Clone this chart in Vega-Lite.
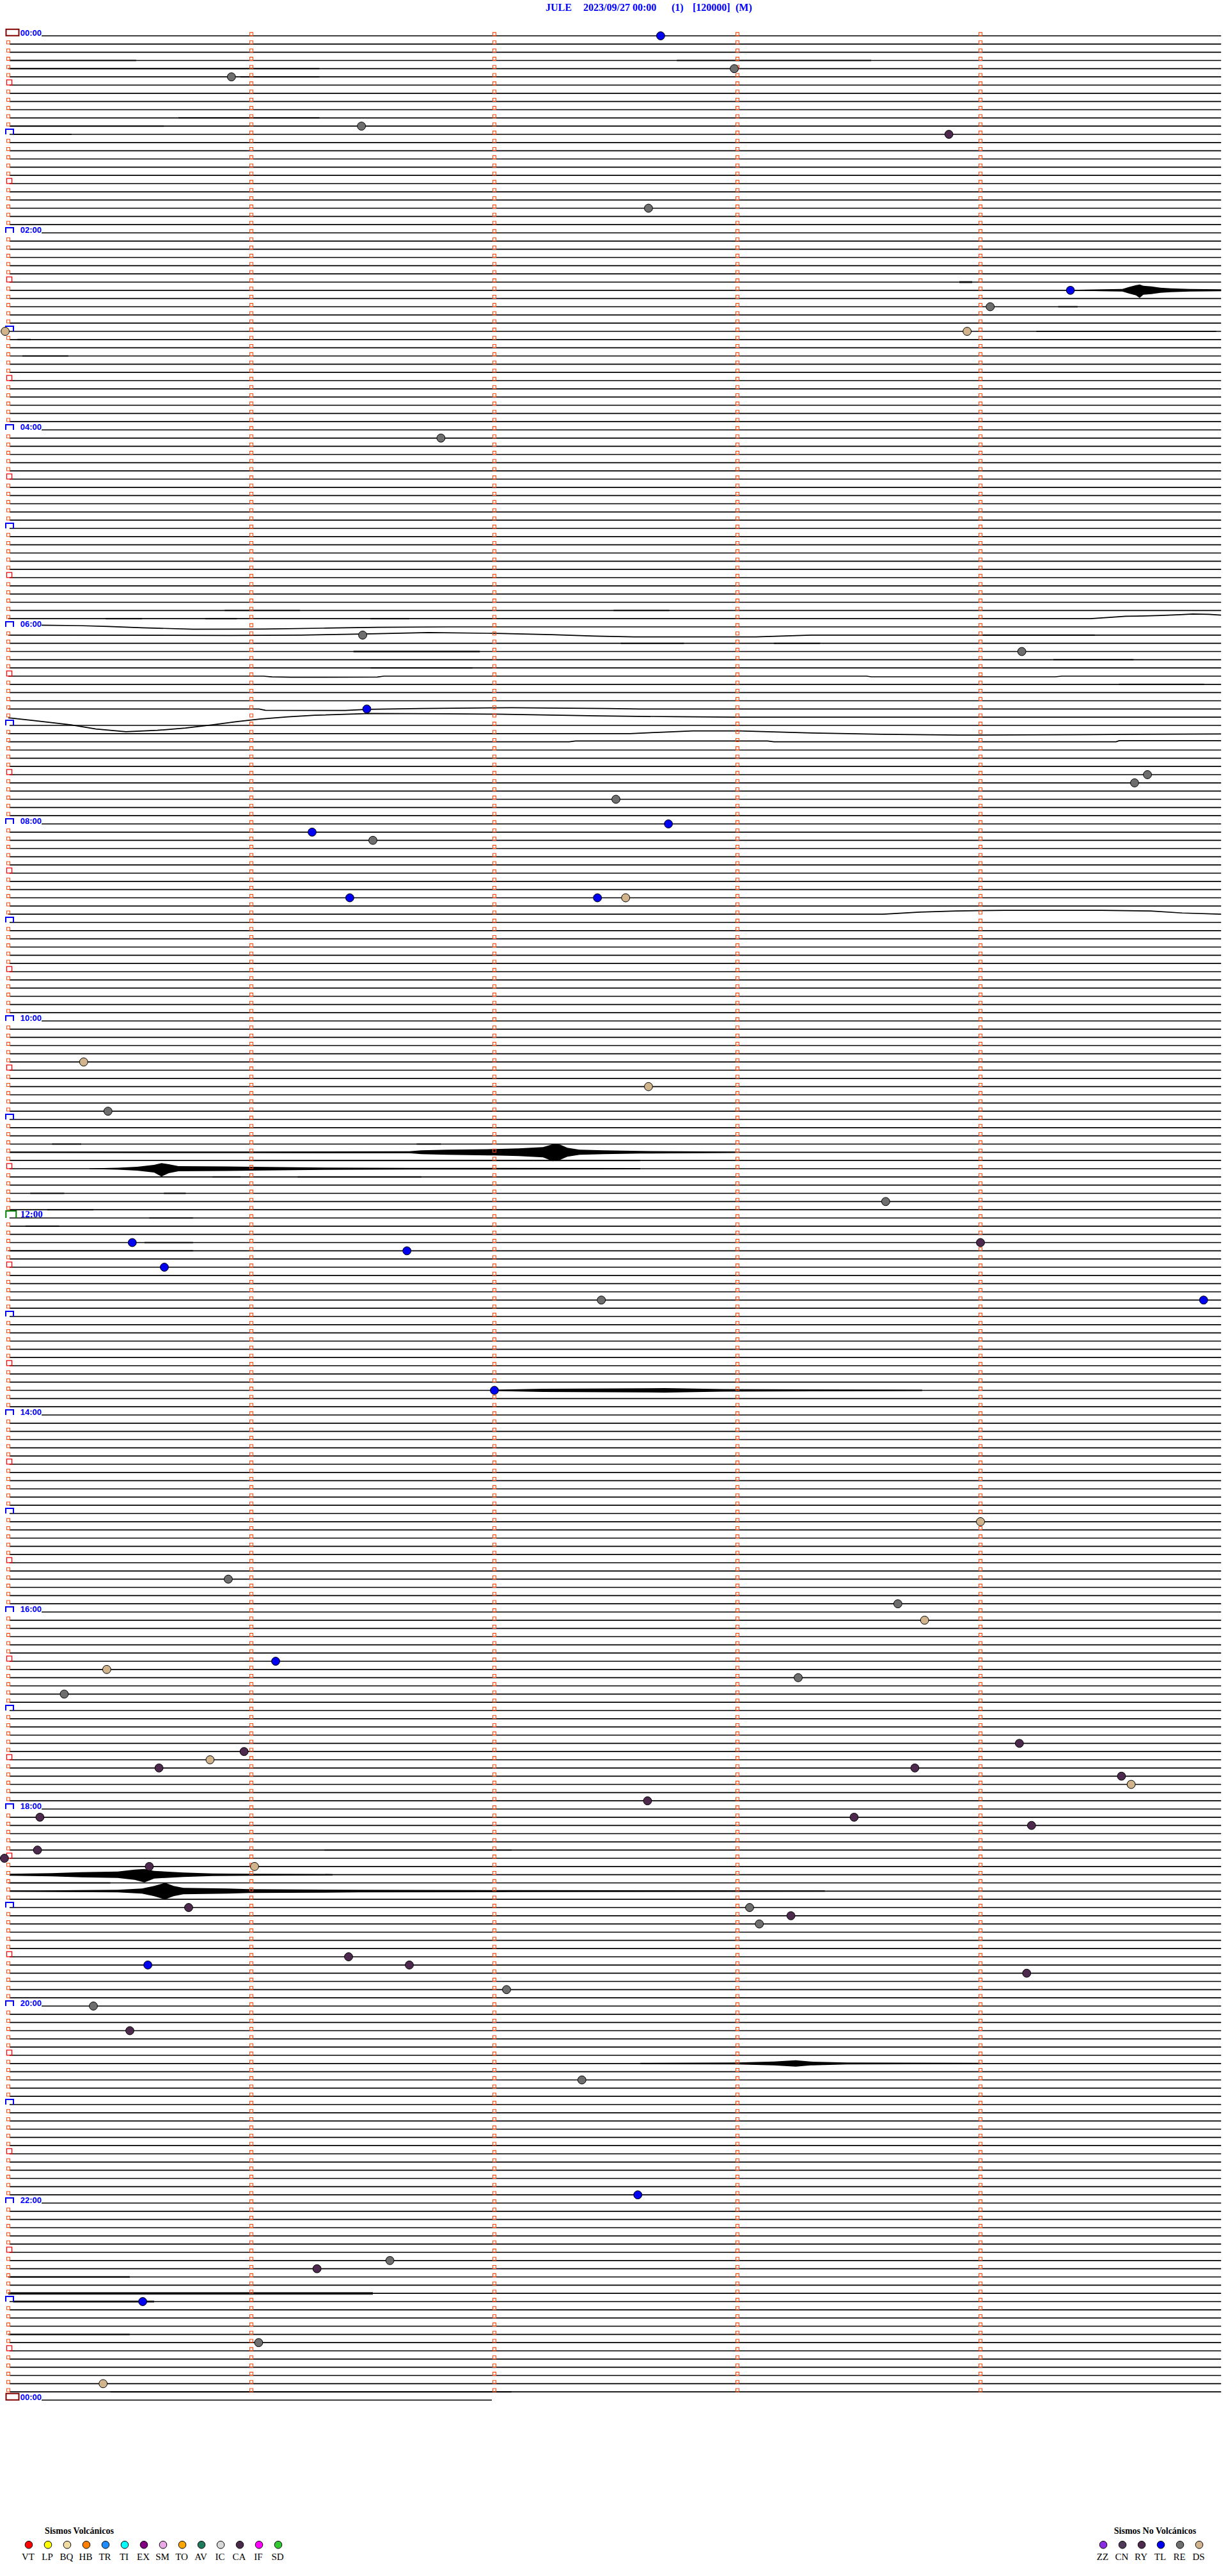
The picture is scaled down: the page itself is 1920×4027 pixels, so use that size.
{
  "$schema": "https://vega.github.io/schema/vega-lite/v6.json",
  "autosize": {"type": "none"},
  "width": 1900,
  "height": 3696,
  "padding": {"left": 13, "top": 56, "right": 7, "bottom": 275},
  "background": "white",
  "config": {"view": {"stroke": null}, "axis": {"disable": true}, "legend": {"disable": true}},
  "datasets": {
    "rows": [{"i":0},{"i":1},{"i":2},{"i":3},{"i":4},{"i":5},{"i":6},{"i":7},{"i":8},{"i":9},{"i":10},{"i":11},{"i":12},{"i":13},{"i":14},{"i":15},{"i":16},{"i":17},{"i":18},{"i":19},{"i":20},{"i":21},{"i":22},{"i":23},{"i":24},{"i":25},{"i":26},{"i":27},{"i":28},{"i":29},{"i":30},{"i":31},{"i":32},{"i":33},{"i":34},{"i":35},{"i":36},{"i":37},{"i":38},{"i":39},{"i":40},{"i":41},{"i":42},{"i":43},{"i":44},{"i":45},{"i":46},{"i":47},{"i":48},{"i":49},{"i":50},{"i":51},{"i":52},{"i":53},{"i":54},{"i":55},{"i":56},{"i":57},{"i":58},{"i":59},{"i":60},{"i":61},{"i":62},{"i":63},{"i":64},{"i":65},{"i":66},{"i":67},{"i":68},{"i":69},{"i":70},{"i":71},{"i":72},{"i":73},{"i":74},{"i":75},{"i":76},{"i":77},{"i":78},{"i":79},{"i":80},{"i":81},{"i":82},{"i":83},{"i":84},{"i":85},{"i":86},{"i":87},{"i":88},{"i":89},{"i":90},{"i":91},{"i":92},{"i":93},{"i":94},{"i":95},{"i":96},{"i":97},{"i":98},{"i":99},{"i":100},{"i":101},{"i":102},{"i":103},{"i":104},{"i":105},{"i":106},{"i":107},{"i":108},{"i":109},{"i":110},{"i":111},{"i":112},{"i":113},{"i":114},{"i":115},{"i":116},{"i":117},{"i":118},{"i":119},{"i":120},{"i":121},{"i":122},{"i":123},{"i":124},{"i":125},{"i":126},{"i":127},{"i":128},{"i":129},{"i":130},{"i":131},{"i":132},{"i":133},{"i":134},{"i":135},{"i":136},{"i":137},{"i":138},{"i":139},{"i":140},{"i":141},{"i":142},{"i":143},{"i":144},{"i":145},{"i":146},{"i":147},{"i":148},{"i":149},{"i":150},{"i":151},{"i":152},{"i":153},{"i":154},{"i":155},{"i":156},{"i":157},{"i":158},{"i":159},{"i":160},{"i":161},{"i":162},{"i":163},{"i":164},{"i":165},{"i":166},{"i":167},{"i":168},{"i":169},{"i":170},{"i":171},{"i":172},{"i":173},{"i":174},{"i":175},{"i":176},{"i":177},{"i":178},{"i":179},{"i":180},{"i":181},{"i":182},{"i":183},{"i":184},{"i":185},{"i":186},{"i":187},{"i":188},{"i":189},{"i":190},{"i":191},{"i":192},{"i":193},{"i":194},{"i":195},{"i":196},{"i":197},{"i":198},{"i":199},{"i":200},{"i":201},{"i":202},{"i":203},{"i":204},{"i":205},{"i":206},{"i":207},{"i":208},{"i":209},{"i":210},{"i":211},{"i":212},{"i":213},{"i":214},{"i":215},{"i":216},{"i":217},{"i":218},{"i":219},{"i":220},{"i":221},{"i":222},{"i":223},{"i":224},{"i":225},{"i":226},{"i":227},{"i":228},{"i":229},{"i":230},{"i":231},{"i":232},{"i":233},{"i":234},{"i":235},{"i":236},{"i":237},{"i":238},{"i":239},{"i":240},{"i":241},{"i":242},{"i":243},{"i":244},{"i":245},{"i":246},{"i":247},{"i":248},{"i":249},{"i":250},{"i":251},{"i":252},{"i":253},{"i":254},{"i":255},{"i":256},{"i":257},{"i":258},{"i":259},{"i":260},{"i":261},{"i":262},{"i":263},{"i":264},{"i":265},{"i":266},{"i":267},{"i":268},{"i":269},{"i":270},{"i":271},{"i":272},{"i":273},{"i":274},{"i":275},{"i":276},{"i":277},{"i":278},{"i":279},{"i":280},{"i":281},{"i":282},{"i":283},{"i":284},{"i":285},{"i":286},{"i":287},{"i":288}],
    "waves": [
      {"w":71,"t":0,"y":71},{"w":71,"t":4.4526,"y":71},{"w":71,"t":4.5316,"y":70.844},{"w":71,"t":4.5974,"y":70.712},{"w":71,"t":4.6763,"y":70.665},{"w":71,"t":4.7421,"y":70.611},{"w":71,"t":4.8237,"y":70.509},{"w":71,"t":4.8737,"y":70.431},{"w":71,"t":4.9395,"y":70.478},{"w":71,"t":4.99,"y":70.572},
      {"w":72,"t":0.1368,"y":71.79},{"w":72,"t":0.2895,"y":71.844},{"w":72,"t":0.4132,"y":71.945},{"w":72,"t":0.55,"y":72.101},{"w":72,"t":0.7605,"y":72.288},{"w":72,"t":1.05,"y":72.257},{"w":72,"t":1.2947,"y":72.156},{"w":72,"t":1.5211,"y":72.055},{"w":72,"t":1.8132,"y":72},{"w":72,"t":4.99,"y":72},
      {"w":73,"t":0,"y":73},{"w":73,"t":0.9132,"y":73.039},{"w":73,"t":1.2026,"y":73},{"w":73,"t":1.3868,"y":72.899},{"w":73,"t":1.5211,"y":72.821},{"w":73,"t":1.7289,"y":72.688},{"w":73,"t":2.0053,"y":72.79},{"w":73,"t":2.2342,"y":72.945},{"w":73,"t":2.4132,"y":73.117},{"w":73,"t":2.5737,"y":73.21},{"w":73,"t":3.0763,"y":73.21},{"w":73,"t":3.3026,"y":73},{"w":73,"t":4.99,"y":73},
      {"w":78,"t":0,"y":78},{"w":78,"t":1.05,"y":78},{"w":78,"t":1.0842,"y":78.093},{"w":78,"t":1.1632,"y":78.132},{"w":78,"t":1.5184,"y":78.101},{"w":78,"t":1.5447,"y":78},{"w":78,"t":3.5316,"y":78},{"w":78,"t":3.55,"y":78.078},{"w":78,"t":4.3079,"y":78.078},{"w":78,"t":4.3342,"y":78},{"w":78,"t":4.99,"y":78},
      {"w":82,"t":0,"y":82},{"w":82,"t":1.0316,"y":82},{"w":82,"t":1.0579,"y":82.156},{"w":82,"t":1.3868,"y":82.179},{"w":82,"t":1.4789,"y":82.039},{"w":82,"t":1.6974,"y":81.945},{"w":82,"t":2.0711,"y":81.844},{"w":82,"t":2.4605,"y":81.945},{"w":82,"t":2.5974,"y":82},{"w":82,"t":4.99,"y":82},
      {"w":83,"t":0,"y":83.078},{"w":83,"t":0.0974,"y":83.39},{"w":83,"t":0.2579,"y":83.935},{"w":83,"t":0.3605,"y":84.441},{"w":83,"t":0.4842,"y":84.768},{"w":83,"t":0.6132,"y":84.597},{"w":83,"t":0.7289,"y":84.324},{"w":83,"t":0.8395,"y":83.935},{"w":83,"t":0.9395,"y":83.545},{"w":83,"t":1.0342,"y":83.234},{"w":83,"t":1.15,"y":82.961},{"w":83,"t":1.2605,"y":82.766},{"w":83,"t":1.4868,"y":82.556},{"w":83,"t":1.8079,"y":82.587},{"w":83,"t":2.0053,"y":82.634},{"w":83,"t":2.4263,"y":82.844},{"w":83,"t":2.75,"y":82.945},{"w":83,"t":2.9921,"y":83},{"w":83,"t":4.99,"y":83},
      {"w":85,"t":0,"y":85},{"w":85,"t":2.5579,"y":85},{"w":85,"t":2.6763,"y":84.844},{"w":85,"t":2.8158,"y":84.665},{"w":85,"t":3.0105,"y":84.665},{"w":85,"t":3.1237,"y":84.766},{"w":85,"t":3.3079,"y":84.922},{"w":85,"t":3.5974,"y":85.078},{"w":85,"t":3.9132,"y":85.179},{"w":85,"t":4.4395,"y":85.117},{"w":85,"t":4.99,"y":85.039},
      {"w":86,"t":0,"y":86},{"w":86,"t":2.3079,"y":86},{"w":86,"t":2.3342,"y":85.899},{"w":86,"t":3.1237,"y":85.899},{"w":86,"t":3.15,"y":86},{"w":86,"t":4.5579,"y":86},{"w":86,"t":4.5711,"y":85.868},{"w":86,"t":4.99,"y":85.868},
      {"w":107,"t":0,"y":107},{"w":107,"t":3.6,"y":107},{"w":107,"t":3.75,"y":106.75},{"w":107,"t":3.9,"y":106.6},{"w":107,"t":4.1,"y":106.533},{"w":107,"t":4.5,"y":106.533},{"w":107,"t":4.7,"y":106.6},{"w":107,"t":4.83,"y":106.85},{"w":107,"t":4.99,"y":107}
    ],
    "noise": [
      {"i":3,"t0":0.005,"t1":0.526,"lo":2.922,"hi":3.078},{"i":3,"t0":2.75,"t1":3.55,"lo":2.922,"hi":3.078},
      {"i":4,"t0":0.0,"t1":1.28,"lo":3.922,"hi":4.078},{"i":5,"t0":0.955,"t1":1.28,"lo":4.922,"hi":5.078},
      {"i":10,"t0":0.7,"t1":1.28,"lo":9.922,"hi":10.078},{"i":11,"t0":0.005,"t1":0.64,"lo":10.922,"hi":11.078},{"i":12,"t0":0.02,"t1":0.26,"lo":11.922,"hi":12.078},
      {"i":30,"t0":3.913,"t1":3.966,"lo":29.883,"hi":30.117},{"i":33,"t0":4.32,"t1":4.4,"lo":32.922,"hi":33.078},{"i":36,"t0":4.23,"t1":4.97,"lo":35.922,"hi":36.078},
      {"i":37,"t0":0.037,"t1":0.092,"lo":36.922,"hi":37.078},{"i":39,"t0":0.058,"t1":0.247,"lo":38.922,"hi":39.078},
      {"i":70,"t0":0.89,"t1":1.2,"lo":69.922,"hi":70.078},{"i":70,"t0":2.49,"t1":2.72,"lo":69.922,"hi":70.078},
      {"i":71,"t0":0.4,"t1":0.55,"lo":70.922,"hi":71.078},{"i":71,"t0":0.81,"t1":0.94,"lo":70.922,"hi":71.078},{"i":71,"t0":1.49,"t1":1.65,"lo":70.922,"hi":71.078},
      {"i":73,"t0":4.01,"t1":4.47,"lo":72.907,"hi":73.093},{"i":74,"t0":2.52,"t1":2.78,"lo":73.922,"hi":74.078},{"i":74,"t0":3.15,"t1":3.34,"lo":73.922,"hi":74.078},
      {"i":75,"t0":1.42,"t1":1.94,"lo":74.907,"hi":75.093},{"i":76,"t0":4.3,"t1":4.63,"lo":75.922,"hi":76.078},{"i":77,"t0":1.49,"t1":1.91,"lo":76.922,"hi":77.078},
      {"i":79,"t0":4.57,"t1":4.92,"lo":78.922,"hi":79.078},
      {"i":135,"t0":0.18,"t1":0.3,"lo":134.922,"hi":135.078},{"i":135,"t0":1.68,"t1":1.78,"lo":134.922,"hi":135.078},
      {"i":137,"t0":0.99,"t1":2.6,"lo":136.922,"hi":137.078},
      {"i":139,"t0":0.84,"t1":0.955,"lo":138.922,"hi":139.078},{"i":139,"t0":1.19,"t1":1.7,"lo":138.907,"hi":139.093},
      {"i":141,"t0":0.09,"t1":0.23,"lo":140.922,"hi":141.078},{"i":141,"t0":0.64,"t1":0.73,"lo":140.922,"hi":141.078},
      {"i":143,"t0":0.16,"t1":0.35,"lo":142.922,"hi":143.078},{"i":144,"t0":0.58,"t1":0.76,"lo":143.922,"hi":144.078},{"i":145,"t0":0.07,"t1":0.21,"lo":144.922,"hi":145.078},
      {"i":147,"t0":0.56,"t1":0.76,"lo":146.922,"hi":147.078},{"i":148,"t0":0.0,"t1":0.76,"lo":147.922,"hi":148.078},
      {"i":221,"t0":1.3,"t1":2.07,"lo":220.922,"hi":221.078},{"i":225,"t0":0.0,"t1":0.42,"lo":224.922,"hi":225.078},
      {"i":273,"t0":0.0,"t1":0.5,"lo":272.907,"hi":273.093},{"i":275,"t0":0.0,"t1":1.5,"lo":274.844,"hi":275.156},{"i":276,"t0":0.02,"t1":0.6,"lo":275.883,"hi":276.117},
      {"i":280,"t0":0.0,"t1":0.5,"lo":279.907,"hi":280.093},{"i":287,"t0":0.42,"t1":2.07,"lo":286.907,"hi":287.093}
    ],
    "bursts": [
      {"e":31,"t":4.371,"lo":30.961,"hi":31.039},{"e":31,"t":4.5,"lo":30.883,"hi":31.117},{"e":31,"t":4.584,"lo":30.844,"hi":31.156},{"e":31,"t":4.61,"lo":30.61,"hi":31.39},{"e":31,"t":4.64,"lo":30.377,"hi":31.623},{"e":31,"t":4.655,"lo":30.3,"hi":31.93},{"e":31,"t":4.67,"lo":30.455,"hi":31.545},{"e":31,"t":4.703,"lo":30.533,"hi":31.467},{"e":31,"t":4.74,"lo":30.688,"hi":31.312},{"e":31,"t":4.782,"lo":30.766,"hi":31.234},{"e":31,"t":4.86,"lo":30.844,"hi":31.156},{"e":31,"t":4.99,"lo":30.883,"hi":31.117},
      {"e":136,"t":0.005,"lo":135.922,"hi":136.078},{"e":136,"t":0.99,"lo":135.907,"hi":136.093},{"e":136,"t":1.65,"lo":135.883,"hi":136.117},{"e":136,"t":1.7,"lo":135.766,"hi":136.234},{"e":136,"t":1.808,"lo":135.688,"hi":136.312},{"e":136,"t":2.0,"lo":135.61,"hi":136.39},{"e":136,"t":2.1,"lo":135.533,"hi":136.467},{"e":136,"t":2.2,"lo":135.377,"hi":136.623},{"e":136,"t":2.24,"lo":135.01,"hi":137.09},{"e":136,"t":2.27,"lo":135.065,"hi":136.935},{"e":136,"t":2.3,"lo":135.455,"hi":136.545},{"e":136,"t":2.35,"lo":135.688,"hi":136.312},{"e":136,"t":2.45,"lo":135.766,"hi":136.234},{"e":136,"t":2.6,"lo":135.844,"hi":136.156},{"e":136,"t":2.99,"lo":135.922,"hi":136.078},
      {"e":138,"t":0.334,"lo":137.961,"hi":138.039},{"e":138,"t":0.45,"lo":137.883,"hi":138.117},{"e":138,"t":0.53,"lo":137.766,"hi":138.234},{"e":138,"t":0.6,"lo":137.533,"hi":138.467},{"e":138,"t":0.63,"lo":137.32,"hi":138.96},{"e":138,"t":0.66,"lo":137.455,"hi":138.545},{"e":138,"t":0.7,"lo":137.688,"hi":138.312},{"e":138,"t":0.9,"lo":137.727,"hi":138.273},{"e":138,"t":1.0,"lo":137.766,"hi":138.234},{"e":138,"t":1.3,"lo":137.86,"hi":138.14},{"e":138,"t":1.65,"lo":137.907,"hi":138.093},{"e":138,"t":2.6,"lo":137.922,"hi":138.078},
      {"e":165,"t":2.0,"lo":164.922,"hi":165.078},{"e":165,"t":2.2,"lo":164.805,"hi":165.195},{"e":165,"t":2.5,"lo":164.766,"hi":165.234},{"e":165,"t":2.7,"lo":164.727,"hi":165.273},{"e":165,"t":2.94,"lo":164.844,"hi":165.156},{"e":165,"t":3.76,"lo":164.922,"hi":165.078},
      {"e":224,"t":0.005,"lo":223.883,"hi":224.117},{"e":224,"t":0.18,"lo":223.805,"hi":224.195},{"e":224,"t":0.3,"lo":223.688,"hi":224.312},{"e":224,"t":0.45,"lo":223.61,"hi":224.39},{"e":224,"t":0.52,"lo":223.377,"hi":224.623},{"e":224,"t":0.56,"lo":223.3,"hi":224.935},{"e":224,"t":0.6,"lo":223.533,"hi":224.467},{"e":224,"t":0.72,"lo":223.727,"hi":224.273},{"e":224,"t":0.84,"lo":223.844,"hi":224.156},{"e":224,"t":1.0,"lo":223.883,"hi":224.117},{"e":224,"t":1.334,"lo":223.922,"hi":224.078},
      {"e":226,"t":0.005,"lo":225.922,"hi":226.078},{"e":226,"t":0.13,"lo":225.907,"hi":226.093},{"e":226,"t":0.45,"lo":225.844,"hi":226.156},{"e":226,"t":0.55,"lo":225.688,"hi":226.312},{"e":226,"t":0.6,"lo":225.377,"hi":226.623},{"e":226,"t":0.645,"lo":224.987,"hi":227.013},{"e":226,"t":0.68,"lo":225.377,"hi":226.623},{"e":226,"t":0.72,"lo":225.61,"hi":226.39},{"e":226,"t":0.9,"lo":225.688,"hi":226.312},{"e":226,"t":0.99,"lo":225.766,"hi":226.234},{"e":226,"t":1.44,"lo":225.844,"hi":226.156},{"e":226,"t":2.07,"lo":225.883,"hi":226.117},{"e":226,"t":3.36,"lo":225.922,"hi":226.078},
      {"e":247,"t":2.6,"lo":246.922,"hi":247.078},{"e":247,"t":3.0,"lo":246.883,"hi":247.117},{"e":247,"t":3.15,"lo":246.766,"hi":247.234},{"e":247,"t":3.24,"lo":246.61,"hi":247.39},{"e":247,"t":3.3,"lo":246.766,"hi":247.234},{"e":247,"t":3.45,"lo":246.883,"hi":247.117},{"e":247,"t":4.0,"lo":246.922,"hi":247.078}
    ],
    "events": [
      {"i":0,"t":2.684,"type":"TL"},{"i":4,"t":2.987,"type":"RE"},{"i":5,"t":0.918,"type":"RE"},{"i":11,"t":1.453,"type":"RE"},{"i":12,"t":3.87,"type":"RY"},{"i":21,"t":2.634,"type":"RE"},{"i":31,"t":4.37,"type":"TL"},{"i":33,"t":4.04,"type":"RE"},{"i":36,"t":3.945,"type":"DS"},{"i":36,"t":-0.013,"type":"DS"},
      {"i":49,"t":1.78,"type":"RE"},{"i":73,"t":1.458,"type":"RE"},{"i":75,"t":4.17,"type":"RE"},{"i":82,"t":1.475,"type":"TL"},{"i":90,"t":4.687,"type":"RE"},{"i":91,"t":4.634,"type":"RE"},{"i":93,"t":2.5,"type":"RE"},{"i":96,"t":2.716,"type":"TL"},{"i":97,"t":1.25,"type":"TL"},{"i":98,"t":1.5,"type":"RE"},
      {"i":105,"t":1.405,"type":"TL"},{"i":105,"t":2.424,"type":"TL"},{"i":105,"t":2.54,"type":"DS"},{"i":125,"t":0.31,"type":"DS"},{"i":128,"t":2.634,"type":"DS"},{"i":131,"t":0.41,"type":"RE"},{"i":142,"t":3.61,"type":"RE"},{"i":147,"t":4.0,"type":"RY"},{"i":147,"t":0.51,"type":"TL"},{"i":148,"t":1.64,"type":"TL"},
      {"i":150,"t":0.642,"type":"TL"},{"i":154,"t":2.44,"type":"RE"},{"i":154,"t":4.918,"type":"TL"},{"i":165,"t":2.0,"type":"TL"},{"i":181,"t":4.0,"type":"DS"},{"i":188,"t":0.905,"type":"RE"},{"i":191,"t":3.66,"type":"RE"},{"i":193,"t":3.77,"type":"DS"},{"i":198,"t":1.1,"type":"TL"},{"i":199,"t":0.405,"type":"DS"},
      {"i":200,"t":3.25,"type":"RE"},{"i":202,"t":0.23,"type":"RE"},{"i":208,"t":4.16,"type":"RY"},{"i":209,"t":0.97,"type":"RY"},{"i":211,"t":0.62,"type":"RY"},{"i":210,"t":0.83,"type":"DS"},{"i":211,"t":3.73,"type":"RY"},{"i":212,"t":4.58,"type":"RY"},{"i":213,"t":4.62,"type":"DS"},{"i":215,"t":2.63,"type":"RY"},
      {"i":217,"t":0.13,"type":"RY"},{"i":217,"t":3.48,"type":"RY"},{"i":218,"t":4.21,"type":"RY"},{"i":221,"t":0.12,"type":"RY"},{"i":222,"t":-0.016,"type":"RY"},{"i":223,"t":0.58,"type":"RY"},{"i":223,"t":1.013,"type":"DS"},{"i":228,"t":0.742,"type":"RY"},{"i":228,"t":3.05,"type":"RE"},{"i":230,"t":3.09,"type":"RE"},
      {"i":229,"t":3.22,"type":"RY"},{"i":234,"t":1.4,"type":"RY"},{"i":235,"t":1.65,"type":"RY"},{"i":235,"t":0.574,"type":"TL"},{"i":236,"t":4.19,"type":"RY"},{"i":238,"t":2.05,"type":"RE"},{"i":240,"t":0.35,"type":"RE"},{"i":243,"t":0.5,"type":"RY"},{"i":249,"t":2.36,"type":"RE"},{"i":263,"t":2.59,"type":"TL"},
      {"i":272,"t":1.27,"type":"RY"},{"i":271,"t":1.57,"type":"RE"},{"i":276,"t":0.553,"type":"TL"},{"i":281,"t":1.03,"type":"RE"},{"i":286,"t":0.39,"type":"DS"}
    ],
    "hours": [{"i":0,"s":"00:00"},{"i":24,"s":"02:00"},{"i":48,"s":"04:00"},{"i":72,"s":"06:00"},{"i":96,"s":"08:00"},{"i":120,"s":"10:00"},{"i":168,"s":"14:00"},{"i":192,"s":"16:00"},{"i":216,"s":"18:00"},{"i":240,"s":"20:00"},{"i":264,"s":"22:00"},{"i":288,"s":"00:00"}],
    "title": [{"t":2.2105,"s":"JULE"},{"t":2.3658,"s":"2023/09/27 00:00"},{"t":2.7289,"s":"(1)"},{"t":2.8158,"s":"[120000]"},{"t":2.9921,"s":"(M)"}],
    "legend": [
      {"type":"VT","t":0.0842},{"type":"LP","t":0.1632},{"type":"BQ","t":0.2421},{"type":"HB","t":0.3211},{"type":"TR","t":0.4},{"type":"TI","t":0.4789},{"type":"EX","t":0.5579},{"type":"SM","t":0.6368},{"type":"TO","t":0.7158},{"type":"AV","t":0.7947},{"type":"IC","t":0.8737},{"type":"CA","t":0.9526},{"type":"IF","t":1.0316},{"type":"SD","t":1.1105},
      {"type":"ZZ","t":4.5053},{"type":"CN","t":4.5842},{"type":"RY","t":4.6632},{"type":"TL","t":4.7421},{"type":"RE","t":4.8211},{"type":"DS","t":4.9}
    ],
    "heads": [{"t":0.2921,"s":"Sismos Volcánicos"},{"t":4.7184,"s":"Sismos No Volcánicos"}]
  },
  "layer": [
    {
      "data": {"name": "noise"},
      "mark": {"type": "rect", "color": "black", "opacity": 0.8},
      "encoding": {
        "x": {"field": "t0", "type": "quantitative", "scale": {"domain": [0, 5], "nice": false, "zero": false}},
        "x2": {"field": "t1"},
        "y": {"field": "lo", "type": "quantitative", "scale": {"domain": [0, 288], "nice": false, "zero": false, "reverse": true}},
        "y2": {"field": "hi"}
      }
    },
    {
      "data": {"name": "bursts"},
      "mark": {"type": "area", "color": "black", "opacity": 1, "interpolate": "linear"},
      "encoding": {
        "x": {"field": "t", "type": "quantitative", "scale": {"domain": [0, 5], "nice": false, "zero": false}},
        "y": {"field": "lo", "type": "quantitative", "scale": {"domain": [0, 288], "nice": false, "zero": false, "reverse": true}},
        "y2": {"field": "hi"},
        "detail": {"field": "e", "type": "nominal"}
      }
    },
    {
      "data": {"name": "rows"},
      "transform": [{"filter": "indexof([71,72,73,78,82,83,85,86,107], datum.i) < 0 && (datum.i % 24 != 0 || datum.i == 144)"}],
      "mark": {"type": "rule", "color": "black", "strokeWidth": 1.7},
      "encoding": {
        "x": {"datum": 0.005, "type": "quantitative", "scale": {"domain": [0, 5], "nice": false, "zero": false}},
        "x2": {"datum": 4.99},
        "y": {"field": "i", "type": "quantitative", "scale": {"domain": [0, 288], "nice": false, "zero": false, "reverse": true}}
      }
    },
    {
      "data": {"name": "rows"},
      "transform": [{"filter": "datum.i % 24 == 0 && datum.i != 144 && datum.i != 72 && datum.i != 288"}],
      "mark": {"type": "rule", "color": "black", "strokeWidth": 1.7},
      "encoding": {
        "x": {"datum": 0.137, "type": "quantitative", "scale": {"domain": [0, 5], "nice": false, "zero": false}},
        "x2": {"datum": 4.99},
        "y": {"field": "i", "type": "quantitative", "scale": {"domain": [0, 288], "nice": false, "zero": false, "reverse": true}}
      }
    },
    {
      "data": {"name": "rows"},
      "transform": [{"filter": "datum.i == 288"}],
      "mark": {"type": "rule", "color": "black", "strokeWidth": 1.7},
      "encoding": {
        "x": {"datum": 0.137, "type": "quantitative", "scale": {"domain": [0, 5], "nice": false, "zero": false}},
        "x2": {"datum": 1.9895},
        "y": {"field": "i", "type": "quantitative", "scale": {"domain": [0, 288], "nice": false, "zero": false, "reverse": true}}
      }
    },
    {
      "data": {"name": "waves"},
      "mark": {"type": "line", "color": "black", "strokeWidth": 1.7, "interpolate": "linear"},
      "encoding": {
        "x": {"field": "t", "type": "quantitative", "scale": {"domain": [0, 5], "nice": false, "zero": false}},
        "y": {"field": "y", "type": "quantitative", "scale": {"domain": [0, 288], "nice": false, "zero": false, "reverse": true}},
        "detail": {"field": "w", "type": "nominal"}
      }
    },
    {
      "data": {"name": "rows"},
      "transform": [{"filter": "datum.i % 6 != 0"}],
      "mark": {"type": "point", "shape": "square", "filled": false, "size": 25, "stroke": "#ff4a10", "strokeWidth": 1.1, "opacity": 1, "yOffset": -2.6},
      "encoding": {
        "x": {"datum": 0, "type": "quantitative", "scale": {"domain": [0, 5], "nice": false, "zero": false}},
        "y": {"field": "i", "type": "quantitative", "scale": {"domain": [0, 288], "nice": false, "zero": false, "reverse": true}}
      }
    },
    {
      "data": {"name": "rows"},
      "transform": [{"filter": "datum.i < 288"}],
      "layer": [
        {"mark": {"type": "point", "shape": "square", "filled": false, "size": 25, "stroke": "#ff4a10", "strokeWidth": 1.1, "opacity": 1, "yOffset": -2.6},
         "encoding": {"x": {"datum": 1, "type": "quantitative", "scale": {"domain": [0, 5], "nice": false, "zero": false}}, "y": {"field": "i", "type": "quantitative", "scale": {"domain": [0, 288], "nice": false, "zero": false, "reverse": true}}}},
        {"mark": {"type": "point", "shape": "square", "filled": false, "size": 25, "stroke": "#ff4a10", "strokeWidth": 1.1, "opacity": 1, "yOffset": -2.6},
         "encoding": {"x": {"datum": 2, "type": "quantitative", "scale": {"domain": [0, 5], "nice": false, "zero": false}}, "y": {"field": "i", "type": "quantitative", "scale": {"domain": [0, 288], "nice": false, "zero": false, "reverse": true}}}},
        {"mark": {"type": "point", "shape": "square", "filled": false, "size": 25, "stroke": "#ff4a10", "strokeWidth": 1.1, "opacity": 1, "yOffset": -2.6},
         "encoding": {"x": {"datum": 3, "type": "quantitative", "scale": {"domain": [0, 5], "nice": false, "zero": false}}, "y": {"field": "i", "type": "quantitative", "scale": {"domain": [0, 288], "nice": false, "zero": false, "reverse": true}}}},
        {"mark": {"type": "point", "shape": "square", "filled": false, "size": 25, "stroke": "#ff4a10", "strokeWidth": 1.1, "opacity": 1, "yOffset": -2.6},
         "encoding": {"x": {"datum": 4, "type": "quantitative", "scale": {"domain": [0, 5], "nice": false, "zero": false}}, "y": {"field": "i", "type": "quantitative", "scale": {"domain": [0, 288], "nice": false, "zero": false, "reverse": true}}}}
      ]
    },
    {
      "data": {"name": "rows"},
      "transform": [{"filter": "datum.i % 12 == 6"}],
      "mark": {"type": "point", "shape": "square", "filled": false, "size": 66, "stroke": "#ff0000", "strokeWidth": 1.3, "opacity": 1, "yOffset": -4.1},
      "encoding": {
        "x": {"datum": 0.0039, "type": "quantitative", "scale": {"domain": [0, 5], "nice": false, "zero": false}},
        "y": {"field": "i", "type": "quantitative", "scale": {"domain": [0, 288], "nice": false, "zero": false, "reverse": true}}
      }
    },
    {
      "data": {"name": "rows"},
      "transform": [{"filter": "datum.i % 12 == 0 && datum.i != 0 && datum.i != 144 && datum.i != 288"}],
      "mark": {"type": "point", "shape": "M -1 0.67 L -1 -0.67 L 1 -0.67 L 1 0.67", "filled": false, "size": 144, "stroke": "#0000ff", "strokeWidth": 2, "opacity": 1, "yOffset": -4},
      "encoding": {
        "x": {"datum": 0.0053, "type": "quantitative", "scale": {"domain": [0, 5], "nice": false, "zero": false}},
        "y": {"field": "i", "type": "quantitative", "scale": {"domain": [0, 288], "nice": false, "zero": false, "reverse": true}}
      }
    },
    {
      "data": {"name": "rows"},
      "transform": [{"filter": "datum.i == 0 || datum.i == 288"}],
      "mark": {"type": "point", "shape": "M -1 -0.5 L 1 -0.5 L 1 0.5 L -1 0.5 Z", "filled": false, "size": 400, "stroke": "#800000", "strokeWidth": 2, "opacity": 1, "yOffset": -5.3},
      "encoding": {
        "x": {"datum": 0.0171, "type": "quantitative", "scale": {"domain": [0, 5], "nice": false, "zero": false}},
        "y": {"field": "i", "type": "quantitative", "scale": {"domain": [0, 288], "nice": false, "zero": false, "reverse": true}}
      }
    },
    {
      "data": {"name": "rows"},
      "transform": [{"filter": "datum.i == 144"}],
      "mark": {"type": "point", "shape": "M -1 0.69 L -1 -0.69 L 1 -0.69 L 1 0.69", "filled": false, "size": 256, "stroke": "#008000", "strokeWidth": 2, "opacity": 1, "yOffset": -5.5},
      "encoding": {
        "x": {"datum": 0.0113, "type": "quantitative", "scale": {"domain": [0, 5], "nice": false, "zero": false}},
        "y": {"field": "i", "type": "quantitative", "scale": {"domain": [0, 288], "nice": false, "zero": false, "reverse": true}}
      }
    },
    {
      "data": {"name": "hours"},
      "mark": {"type": "text", "align": "left", "baseline": "alphabetic", "font": "Liberation Sans", "fontSize": 13, "fontWeight": "bold", "color": "#0000ff"},
      "encoding": {
        "x": {"datum": 0.0495, "type": "quantitative", "scale": {"domain": [0, 5], "nice": false, "zero": false}},
        "y": {"field": "i", "type": "quantitative", "scale": {"domain": [0, 288], "nice": false, "zero": false, "reverse": true}},
        "text": {"field": "s"}
      }
    },
    {
      "data": {"values": [{"i": 144, "s": "12:00"}]},
      "mark": {"type": "text", "align": "left", "baseline": "alphabetic", "font": "Liberation Serif", "fontSize": 15, "fontWeight": "bold", "color": "#0000ff", "dy": -1},
      "encoding": {
        "x": {"datum": 0.0495, "type": "quantitative", "scale": {"domain": [0, 5], "nice": false, "zero": false}},
        "y": {"field": "i", "type": "quantitative", "scale": {"domain": [0, 288], "nice": false, "zero": false, "reverse": true}},
        "text": {"field": "s"}
      }
    },
    {
      "data": {"name": "events"},
      "mark": {"type": "point", "shape": "circle", "filled": true, "size": 165, "stroke": "black", "strokeWidth": 1, "opacity": 1},
      "encoding": {
        "x": {"field": "t", "type": "quantitative", "scale": {"domain": [0, 5], "nice": false, "zero": false}},
        "y": {"field": "i", "type": "quantitative", "scale": {"domain": [0, 288], "nice": false, "zero": false, "reverse": true}},
        "fill": {"field": "type", "type": "nominal", "scale": {"domain": ["VT","LP","BQ","HB","TR","TI","EX","SM","TO","AV","IC","CA","IF","SD","ZZ","CN","RY","TL","RE","DS"], "range": ["#ff0000","#ffff00","#f0dca0","#ff8000","#1e8cff","#00ffff","#800080","#eaa8e6","#ffa500","#1e7a5a","#d8d8d8","#4a2a4a","#ff00ff","#32c832","#8a2be2","#4e3a58","#4d2a4d","#0000f0","#6e6e6e","#d2b48c"]}}
      }
    },
    {
      "data": {"name": "legend"},
      "mark": {"type": "point", "shape": "circle", "filled": true, "size": 135, "stroke": "black", "strokeWidth": 1, "opacity": 1},
      "encoding": {
        "x": {"field": "t", "type": "quantitative", "scale": {"domain": [0, 5], "nice": false, "zero": false}},
        "y": {"datum": 305.63, "type": "quantitative", "scale": {"domain": [0, 288], "nice": false, "zero": false, "reverse": true}},
        "fill": {"field": "type", "type": "nominal", "scale": {"domain": ["VT","LP","BQ","HB","TR","TI","EX","SM","TO","AV","IC","CA","IF","SD","ZZ","CN","RY","TL","RE","DS"], "range": ["#ff0000","#ffff00","#f0dca0","#ff8000","#1e8cff","#00ffff","#800080","#eaa8e6","#ffa500","#1e7a5a","#d8d8d8","#4a2a4a","#ff00ff","#32c832","#8a2be2","#4e3a58","#4d2a4d","#0000f0","#6e6e6e","#d2b48c"]}}
      }
    },
    {
      "data": {"name": "legend"},
      "mark": {"type": "text", "align": "center", "baseline": "middle", "font": "Liberation Serif", "fontSize": 15, "color": "black", "dx": -1},
      "encoding": {
        "x": {"field": "t", "type": "quantitative", "scale": {"domain": [0, 5], "nice": false, "zero": false}},
        "y": {"datum": 307.1, "type": "quantitative", "scale": {"domain": [0, 288], "nice": false, "zero": false, "reverse": true}},
        "text": {"field": "type"}
      }
    },
    {
      "data": {"name": "heads"},
      "mark": {"type": "text", "align": "center", "baseline": "middle", "font": "Liberation Serif", "fontSize": 14, "fontWeight": "bold", "color": "black"},
      "encoding": {
        "x": {"field": "t", "type": "quantitative", "scale": {"domain": [0, 5], "nice": false, "zero": false}},
        "y": {"datum": 303.98, "type": "quantitative", "scale": {"domain": [0, 288], "nice": false, "zero": false, "reverse": true}},
        "text": {"field": "s"}
      }
    },
    {
      "data": {"name": "title"},
      "mark": {"type": "text", "align": "left", "baseline": "middle", "font": "Liberation Serif", "fontSize": 16, "fontWeight": "bold", "color": "#0000ff"},
      "encoding": {
        "x": {"field": "t", "type": "quantitative", "scale": {"domain": [0, 5], "nice": false, "zero": false}},
        "y": {"datum": -3.39, "type": "quantitative", "scale": {"domain": [0, 288], "nice": false, "zero": false, "reverse": true}},
        "text": {"field": "s"}
      }
    }
  ]
}
